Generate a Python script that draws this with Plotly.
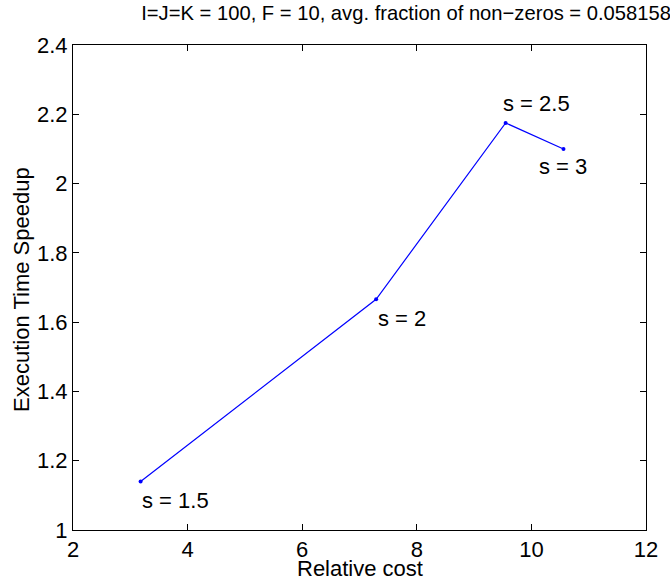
import plotly.graph_objects as go

relative_cost = [3.18, 7.29, 9.55, 10.56]
speedup = [1.14, 1.666, 2.175, 2.10]
s_labels = ["s = 1.5", "s = 2", "s = 2.5", "s = 3"]
x_ticks = [2, 4, 6, 8, 10, 12]
y_ticks = [1, 1.2, 1.4, 1.6, 1.8, 2, 2.2, 2.4]

FONT = "Liberation Sans, Arial, Helvetica, sans-serif"

fig = go.Figure()
fig.add_trace(go.Scatter(
    x=relative_cost, y=speedup, mode="lines+markers",
    line=dict(color="#0000ff", width=1.2),
    marker=dict(color="#0000ff", size=4),
    showlegend=False, hoverinfo="skip",
))

# label offsets (pixels) relative to each point
shifts = [(-1, -19), (0, -19), (-5, 19), (-26, -18)]
for xv, yv, t, (dx, dy) in zip(relative_cost, speedup, s_labels, shifts):
    fig.add_annotation(x=xv, y=yv, text=t, showarrow=False,
                       xanchor="left", yanchor="middle",
                       xshift=dx, yshift=dy,
                       font=dict(family=FONT, size=22, color="black"))

axis_common = dict(
    showgrid=False, zeroline=False, showline=True, linecolor="black",
    linewidth=1, mirror="ticks", ticks="inside", ticklen=6,
    tickcolor="black", tickfont=dict(family=FONT, size=22, color="black"),
)
fig.update_xaxes(range=[2, 12], tickvals=x_ticks, **axis_common)
fig.update_yaxes(range=[1, 2.4], tickvals=y_ticks, tickformat="~g",
                 **axis_common)

# axis titles
fig.add_annotation(xref="paper", yref="paper", x=0.5, y=0, text="Relative cost",
                   showarrow=False, xanchor="center", yanchor="middle", yshift=-38,
                   font=dict(family=FONT, size=22, color="black"))
fig.add_annotation(xref="paper", yref="paper", x=0, y=0.495,
                   text="Execution Time Speedup", textangle=-90,
                   showarrow=False, xanchor="center", yanchor="middle", xshift=-51,
                   font=dict(family=FONT, size=22, color="black"))

fig.update_layout(
    width=670, height=580,
    margin=dict(l=73, r=19, t=45, b=50),
    paper_bgcolor="white", plot_bgcolor="white",
    title=dict(text="I=J=K = 100, F = 10, avg. fraction of non\u2212zeros = 0.058158",
               x=0.5813, xanchor="center", y=0.978, yanchor="middle",
               xref="paper",
               font=dict(family=FONT, size=20.2, color="black")),
)

fig.write_html("out.html", config={"displayModeBar": False},
               post_script="document.body.style.margin='0';document.body.style.overflow='hidden';")
